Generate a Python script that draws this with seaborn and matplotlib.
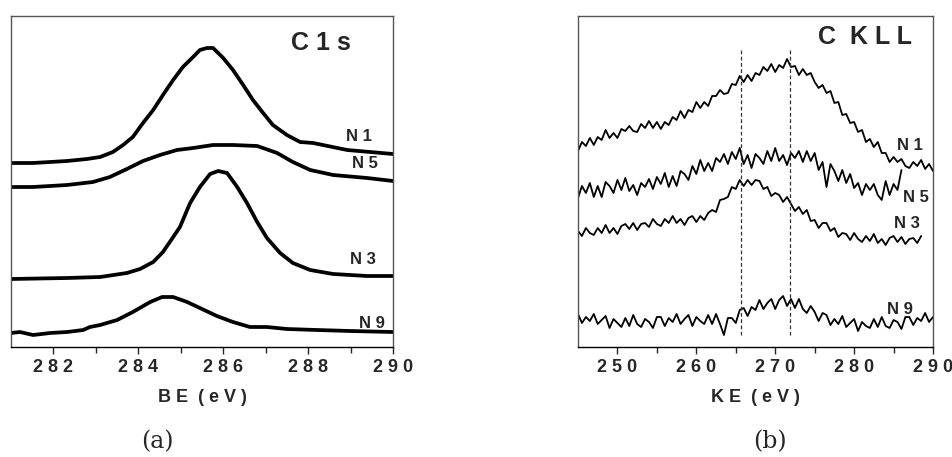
import numpy as np
import pandas as pd
import matplotlib
matplotlib.use("Agg")
import matplotlib.pyplot as plt
import seaborn as sns

# ---- C 1s (binding energy, eV) ----
be_n1 = [281.00, 281.52, 282.32, 282.79, 283.10, 283.40, 283.64, 283.87, 284.11,
         284.35, 284.58, 284.82, 285.05, 285.29, 285.45, 285.62, 285.76, 286.00,
         286.23, 286.47, 286.70, 286.94, 287.17, 287.50, 287.81, 288.12, 288.92, 290.0]
c1s_n1 = [184, 184, 186, 188, 190, 195, 202, 210, 224, 237, 252, 267, 280, 290,
          297, 299, 299, 289, 277, 262, 247, 234, 222, 212, 205, 204, 197, 193]

be_n5 = [281.0, 281.52, 282.32, 282.93, 283.33, 283.73, 284.11, 284.51, 284.91,
         285.29, 285.76, 286.23, 286.80, 287.27, 287.64, 288.05, 288.59, 289.39, 290.0]
c1s_n5 = [160, 160, 162, 165, 170, 178, 186, 192, 197, 199, 202, 202, 201, 194,
          185, 177, 172, 169, 166]

be_n3 = [281.0, 282.32, 283.10, 283.73, 284.04, 284.35, 284.58, 284.79, 284.98,
         285.22, 285.45, 285.69, 285.88, 286.09, 286.33, 286.56, 286.80, 287.03,
         287.34, 287.64, 288.05, 288.59, 289.39, 290.0]
c1s_n3 = [68, 69, 70, 74, 78, 85, 95, 108, 120, 144, 160, 173, 176, 174, 160, 144,
          125, 109, 94, 84, 77, 73, 71, 71]

be_n9 = [281.0, 281.21, 281.52, 281.92, 282.32, 282.70, 282.86, 283.10, 283.50,
         283.87, 284.28, 284.56, 284.82, 285.15, 285.45, 285.85, 286.23, 286.63,
         287.03, 287.50, 288.21, 288.99, 290.0]
c1s_n9 = [14, 15, 12, 14, 15, 17, 20, 22, 27, 35, 45, 50, 50, 45, 39, 31, 25, 20,
          20, 18, 17, 16, 15]

# ---- C KLL (kinetic energy, eV), 0.5 eV steps from 245 ----
ke = np.arange(245, 290.01, 0.5)
kll_n1 = [196, 205, 201, 209, 202, 210, 207, 217, 209, 214, 209, 218, 216, 221,
          216, 215, 223, 219, 226, 219, 225, 218, 225, 222, 230, 227, 236, 229,
          237, 235, 245, 239, 245, 241, 251, 251, 257, 253, 254, 263, 262, 271,
          265, 272, 266, 274, 272, 280, 276, 283, 275, 282, 279, 288, 280, 281,
          272, 278, 272, 274, 265, 259, 262, 254, 256, 244, 245, 232, 233, 224,
          225, 215, 217, 205, 208, 200, 205, 194, 194, 185, 190, 185, 188, 181,
          179, 185, 181, 187, 178, 183, 176]
kll_n5 = [149, 161, 154, 164, 150, 161, 150, 165, 161, 154, 167, 157, 169, 156,
          162, 152, 164, 160, 168, 158, 170, 163, 174, 160, 171, 161, 176, 173,
          167, 181, 173, 187, 176, 184, 176, 189, 185, 193, 183, 195, 188, 199,
          183, 192, 179, 193, 189, 183, 196, 186, 199, 186, 192, 182, 194, 189,
          196, 185, 196, 186, 194, 177, 185, 160, 183, 176, 166, 177, 164, 173,
          159, 164, 152, 163, 157, 163, 152, 147, 166, 152, 163, 157, 177]
kll_n3 = [116, 111, 119, 114, 112, 119, 114, 122, 114, 119, 113, 121, 123, 118,
          124, 117, 123, 124, 120, 128, 123, 121, 128, 124, 131, 124, 128, 122,
          129, 131, 125, 131, 127, 134, 137, 135, 147, 148, 150, 160, 158, 167,
          161, 167, 162, 167, 166, 158, 160, 151, 154, 152, 145, 150, 143, 136,
          140, 133, 137, 126, 127, 119, 124, 124, 116, 119, 110, 114, 113, 107,
          114, 108, 105, 111, 106, 113, 104, 108, 102, 109, 111, 105, 110, 103,
          108, 109, 104, 111]
kll_n9 = [33, 24, 30, 26, 33, 23, 27, 31, 19, 28, 24, 20, 29, 21, 32, 23, 20, 28,
          25, 19, 30, 30, 21, 29, 25, 33, 23, 28, 32, 21, 30, 26, 23, 32, 23, 33,
          23, 12, 29, 29, 24, 37, 39, 31, 40, 37, 47, 38, 44, 48, 38, 47, 51, 41,
          48, 39, 48, 38, 34, 41, 35, 26, 34, 32, 22, 28, 23, 31, 20, 24, 28, 16,
          25, 21, 19, 28, 20, 30, 21, 19, 27, 25, 18, 30, 30, 22, 29, 26, 34, 25,
          30]

marker_lines = [265.7, 271.9]

sns.set_style("ticks")
plt.rcParams["font.family"] = ["Liberation Sans", "DejaVu Sans"]

fig = plt.figure(figsize=(9.53, 4.57), dpi=100)
ax1 = fig.add_axes([11 / 953, 110 / 457, 382 / 953, 331 / 457])
ax2 = fig.add_axes([578 / 953, 110 / 457, 355 / 953, 331 / 457])

for x, y in [(be_n1, c1s_n1), (be_n5, c1s_n5), (be_n3, c1s_n3), (be_n9, c1s_n9)]:
    sns.lineplot(x=x, y=y, ax=ax1, color="black", lw=2.7,
                 solid_joinstyle="round", solid_capstyle="round")

for y in [kll_n1, kll_n5, kll_n3, kll_n9]:
    sns.lineplot(x=ke[:len(y)], y=y, ax=ax2, color="black", lw=1.3)

ax2.vlines(marker_lines, 12, 299, colors="#333333", linestyles=(0, (3, 2)), lw=0.9)

ax1.set_xlim(281, 290)
ax1.set_ylim(0, 331)
ax1.set_xticks([282, 284, 286, 288, 290])
ax1.set_xticks([283, 285, 287, 289], minor=True)
ax1.set_xticklabels(["2 8 2", "2 8 4", "2 8 6", "2 8 8", "2 9 0"])
ax1.set_xlabel("B E  ( e V )", fontsize=13, fontweight="bold", labelpad=9)

ax2.set_xlim(245, 290)
ax2.set_ylim(0, 331)
ax2.set_xticks([250, 260, 270, 280, 290])
ax2.set_xticks([255, 265, 275, 285], minor=True)
ax2.set_xticklabels(["2 5 0", "2 6 0", "2 7 0", "2 8 0", "2 9 0"])
ax2.set_xlabel("K E  ( e V )", fontsize=13, fontweight="bold", labelpad=9)

for ax in (ax1, ax2):
    ax.set_yticks([])
    ax.set_ylabel("")
    for s in ax.spines.values():
        s.set_color("#555555")
        s.set_linewidth(1.0)
    ax.spines["bottom"].set_color("black")
    ax.tick_params(axis="x", which="major", length=5, width=1, pad=4,
                   labelsize=13, direction="out")
    ax.tick_params(axis="x", which="minor", length=4, width=1, direction="out")
    for lab in ax.get_xticklabels():
        lab.set_fontweight("bold")

ax1.text(288.3, 304, "C 1 s", fontsize=18, fontweight="bold", ha="center", va="center")
ax1.text(289.2, 210, "N 1", fontsize=12, fontweight="bold", ha="center", va="center")
ax1.text(289.34, 184, "N 5", fontsize=12, fontweight="bold", ha="center", va="center")
ax1.text(289.3, 87, "N 3", fontsize=12, fontweight="bold", ha="center", va="center")
ax1.text(289.5, 24, "N 9", fontsize=12, fontweight="bold", ha="center", va="center")

ax2.text(281.4, 310, "C  K L L", fontsize=18, fontweight="bold", ha="center", va="center")
ax2.text(287.1, 201, "N 1", fontsize=12, fontweight="bold", ha="center", va="center")
ax2.text(287.8, 150, "N 5", fontsize=12, fontweight="bold", ha="center", va="center")
ax2.text(286.7, 123, "N 3", fontsize=12, fontweight="bold", ha="center", va="center")
ax2.text(285.8, 37, "N 9", fontsize=12, fontweight="bold", ha="center", va="center")

fig.text(157 / 953, 1 - 442 / 457, "(a)", fontsize=17, family="DejaVu Serif",
         ha="center", va="center")
fig.text(770 / 953, 1 - 442 / 457, "(b)", fontsize=17, family="DejaVu Serif",
         ha="center", va="center")

fig.savefig("out.png", dpi=100)
